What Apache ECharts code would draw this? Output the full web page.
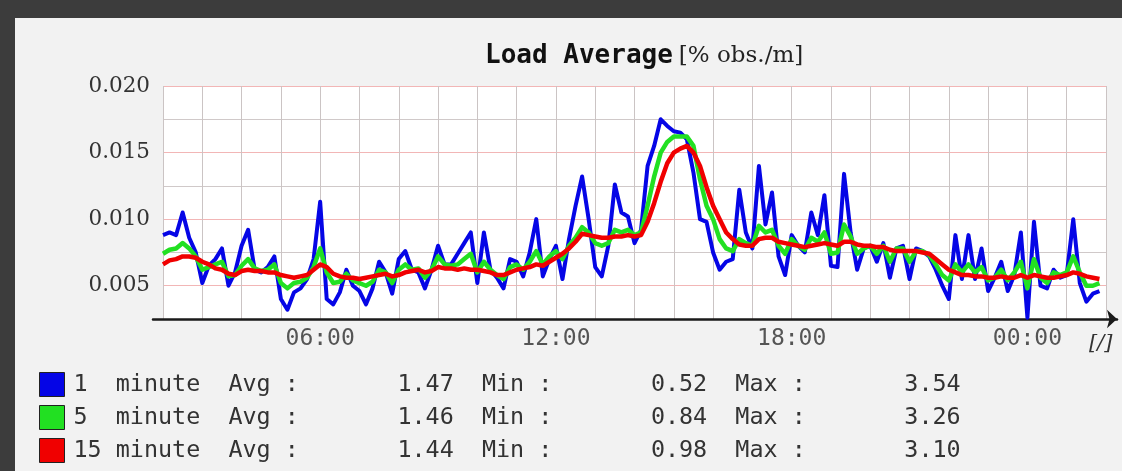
<!DOCTYPE html>
<html><head><meta charset="utf-8">
<script src="https://cdn.jsdelivr.net/npm/echarts@6/dist/echarts.min.js"></script>
<style>
html,body{margin:0;padding:0;background:#3c3c3c;overflow:hidden;}
#panel{position:absolute;left:15px;top:18px;right:0;bottom:0;background:#f2f2f2;}
#c{position:absolute;left:0;top:0;width:1122px;height:471px;}
</style>
</head><body><div id="panel"></div><div id="c"></div>
<script>
// ---- data ----
const startHour = 2;          // first sample at 02:00
const stepMinutes = 10;       // one sample every 10 minutes
const xTickLabels = ['06:00', '12:00', '18:00', '00:00'];
const yTickLabels = ['0.005', '0.010', '0.015', '0.020'];
const seriesNames = ['1  minute', '5  minute', '15 minute'];
const avgValues = [1.47, 1.46, 1.44];
const minValues = [0.52, 0.84, 0.98];
const maxValues = [3.54, 3.26, 3.10];

const load1 = [
0.0088,0.0090,0.0088,0.0105,0.0086,0.0075,0.0052,0.0065,0.0070,0.0078,
0.0050,0.0060,0.0080,0.0092,0.0062,0.0060,0.0064,0.0072,0.0040,0.0032,
0.0045,0.0048,0.0055,0.0070,0.0113,0.0040,0.0036,0.0045,0.0062,0.0050,
0.0046,0.0036,0.0048,0.0068,0.0060,0.0044,0.0070,
0.0076,0.0062,0.0060,0.0048,0.0062,0.0080,0.0066,0.0066,0.0074,0.0082,0.0090,0.0052,0.0090,0.0062,0.0056,0.0048,0.0070,0.0068,0.0057,0.0075,0.0100,0.0057,
0.0070,0.0080,0.0055,0.0085,0.0110,0.0132,0.0100,0.0064,0.0057,0.0080,0.0126,0.0105,0.0102,0.0082,0.0092,0.0140,0.0155,0.0175,0.0170,0.0166,0.0165,0.0160,
0.0135,0.0100,0.0098,0.0075,0.0062,0.0068,0.0070,0.0122,0.0090,0.0078,0.0140,0.0096,0.0120,
0.0072,0.0058,0.0088,0.0080,0.0075,0.0105,0.0088,0.0118,0.0065,0.0064,0.0134,0.0090,0.0062,0.0078,0.0080,0.0068,0.0082,0.0056,0.0078,0.0080,
0.0055,0.0078,0.0076,0.0072,0.0062,0.0050,0.0040,0.0088,0.0055,0.0088,0.0055,0.0078,0.0046,0.0056,0.0068,0.0046,0.0058,0.0090,0.0026,0.0098,
0.0050,0.0048,0.0062,0.0056,0.0058,0.0100,0.0052,0.0038,0.0044,0.0046
];
const load5 = [
0.0074,0.0077,0.0078,0.0082,0.0078,0.0072,0.0062,0.0064,0.0066,0.0068,
0.0057,0.0058,0.0065,0.0070,0.0063,0.0061,0.0062,0.0066,0.0052,0.0048,
0.0052,0.0053,0.0056,0.0064,0.0078,0.0060,0.0052,0.0053,0.0059,0.0054,
0.0052,0.0050,0.0053,0.0062,0.0060,0.0052,0.0062,
0.0066,0.0062,0.0063,0.0056,0.0062,0.0072,0.0066,0.0065,0.0066,0.0070,0.0074,0.0060,0.0068,0.0062,0.0058,0.0055,0.0064,0.0066,0.0062,0.0068,0.0076,0.0066,
0.0072,0.0076,0.0070,0.0080,0.0086,0.0094,0.0090,0.0082,0.0080,0.0082,0.0092,0.0090,0.0092,0.0088,0.0090,0.0110,0.0132,0.0150,0.0158,0.0162,0.0162,0.0162,
0.0155,0.0130,0.0110,0.0100,0.0085,0.0078,0.0076,0.0085,0.0082,0.0080,0.0095,0.0090,0.0092,
0.0080,0.0074,0.0085,0.0080,0.0077,0.0086,0.0083,0.0090,0.0074,0.0075,0.0096,0.0087,0.0074,0.0078,0.0080,0.0074,0.0080,0.0068,0.0078,0.0078,
0.0068,0.0076,0.0076,0.0073,0.0066,0.0058,0.0054,0.0066,0.0060,0.0066,0.0060,0.0064,0.0054,0.0056,0.0062,0.0054,0.0060,0.0068,0.0048,0.0070,
0.0056,0.0052,0.0060,0.0058,0.0060,0.0072,0.0060,0.0050,0.0050,0.0052
];
const load15 = [
0.0066,0.0069,0.0070,0.0072,0.0072,0.0071,0.0068,0.0066,0.0063,0.0062,
0.0059,0.0058,0.0061,0.0062,0.0061,0.0061,0.0060,0.0060,0.0058,0.0057,
0.0056,0.0057,0.0058,0.0062,0.0066,0.0064,0.0059,0.0057,0.0056,0.0056,
0.0055,0.0056,0.0057,0.0058,0.0059,0.0057,0.0058,
0.0060,0.0061,0.0062,0.0060,0.0061,0.0064,0.0063,0.0063,0.0062,0.0063,0.0062,0.0062,0.0061,0.0060,0.0058,0.0058,0.0060,0.0062,0.0063,0.0064,0.0066,0.0065,
0.0068,0.0071,0.0074,0.0078,0.0083,0.0089,0.0088,0.0087,0.0086,0.0086,0.0087,0.0087,0.0088,0.0087,0.0088,0.0098,0.0112,0.0128,0.0142,0.0150,0.0153,0.0155,
0.0150,0.0140,0.0124,0.0110,0.0100,0.0090,0.0085,0.0081,0.0080,0.0080,0.0085,0.0086,0.0086,
0.0083,0.0082,0.0081,0.0080,0.0079,0.0080,0.0081,0.0082,0.0081,0.0080,0.0083,0.0083,0.0081,0.0080,0.0080,0.0079,0.0079,0.0077,0.0076,0.0076,
0.0076,0.0076,0.0075,0.0074,0.0070,0.0066,0.0062,0.0060,0.0058,0.0058,0.0057,0.0057,0.0056,0.0056,0.0057,0.0056,0.0056,0.0058,0.0056,0.0058,
0.0057,0.0056,0.0056,0.0057,0.0058,0.0060,0.0059,0.0057,0.0056,0.0055
];

// ---- chart ----
const seriesColors = ['#0505e6', '#22e022', '#f00000'];
const seriesWidths = [4, 4.5, 4.5];
const allSeries = [load1, load5, load15];
const toPairs = arr => arr.map((v, i) => [i * stepMinutes, v]);
const pad = n => (n < 10 ? '0' : '') + n;

const chart = echarts.init(document.getElementById('c'), null, {renderer: 'canvas'});
chart.setOption({
  animation: false,
  backgroundColor: 'transparent',
  title: [{
    text: '{a|Load Average}{b|[% obs./m]}',
    left: 480, top: 38,
    textStyle: {
      rich: {
        a: {fontFamily: 'DejaVu Sans Mono', fontWeight: 'bold', fontSize: 26, color: '#111'},
        b: {fontFamily: 'DejaVu Serif', fontWeight: 'normal', fontSize: 23, color: '#222', padding: [0, 0, 0, 6]}
      }
    }
  }, {
    text: '[/]', left: 1084, top: 328,
    textStyle: {fontFamily: 'DejaVu Serif', fontStyle: 'italic', fontWeight: 'normal', fontSize: 21, color: '#333'}
  }],
  legend: {
    orient: 'vertical', left: 39, top: 372, height: 110, padding: 0,
    itemWidth: 25, itemHeight: 24, itemGap: 8,
    icon: 'rect', selectedMode: false,
    data: seriesNames,
    itemStyle: {borderColor: '#222', borderWidth: 1},
    textStyle: {fontFamily: 'DejaVu Sans Mono', fontSize: 23.4, lineHeight: 24, color: '#333', padding: [0, 0, 0, 4]},
    formatter: name => {
      const k = seriesNames.indexOf(name);
      return name + '  Avg :       ' + avgValues[k].toFixed(2) +
        '  Min :       ' + minValues[k].toFixed(2) +
        '  Max :       ' + maxValues[k].toFixed(2);
    }
  },
  grid: [
    {left: 163, right: 16, top: 86, bottom: 152, show: true, backgroundColor: '#ffffff', borderWidth: 0},
    {left: 153, right: 5, top: 86, bottom: 152, show: false}
  ],
  xAxis: [{
    type: 'value', gridIndex: 0, min: 0, max: 24 * 60, interval: 60,
    axisLine: {show: false}, axisTick: {show: false},
    splitLine: {show: true, lineStyle: {color: '#cbc4c4', width: 1}},
    axisLabel: {
      margin: 9, fontFamily: 'DejaVu Sans Mono', fontSize: 23, color: '#555',
      formatter: v => {
        const s = pad((startHour + Math.round(v / 60)) % 24) + ':00';
        return xTickLabels.includes(s) ? s : '';
      }
    }
  }, {
    type: 'value', gridIndex: 1, min: 0, max: 1,
    axisLine: {show: true, symbol: ['none', 'arrow'], symbolSize: [14, 10], lineStyle: {color: '#1a1a1a', width: 2.5}},
    axisTick: {show: false}, axisLabel: {show: false}, splitLine: {show: false}
  }],
  yAxis: [{
    type: 'value', gridIndex: 0, min: 0.0025, max: 0.020, interval: 0.0025,
    axisLine: {show: false}, axisTick: {show: false},
    splitLine: {show: true, lineStyle: {color: ['#d0c9c9', '#f2b6b6'], width: 1}},
    axisLabel: {
      margin: 13, fontFamily: 'DejaVu Serif', fontSize: 21.5, color: '#333',
      formatter: v => { const s = v.toFixed(3); return yTickLabels.includes(s) ? s : ''; }
    }
  }, {
    type: 'value', gridIndex: 1, show: false, min: 0, max: 1
  }],
  series: allSeries.map((arr, k) => ({
    name: seriesNames[k], type: 'line', xAxisIndex: 0, yAxisIndex: 0,
    data: toPairs(arr), symbol: 'none', showSymbol: false,
    lineStyle: {color: seriesColors[k], width: seriesWidths[k], join: 'round'},
    itemStyle: {color: seriesColors[k]},
    z: 2 + k
  }))
});
</script>
</body></html>
